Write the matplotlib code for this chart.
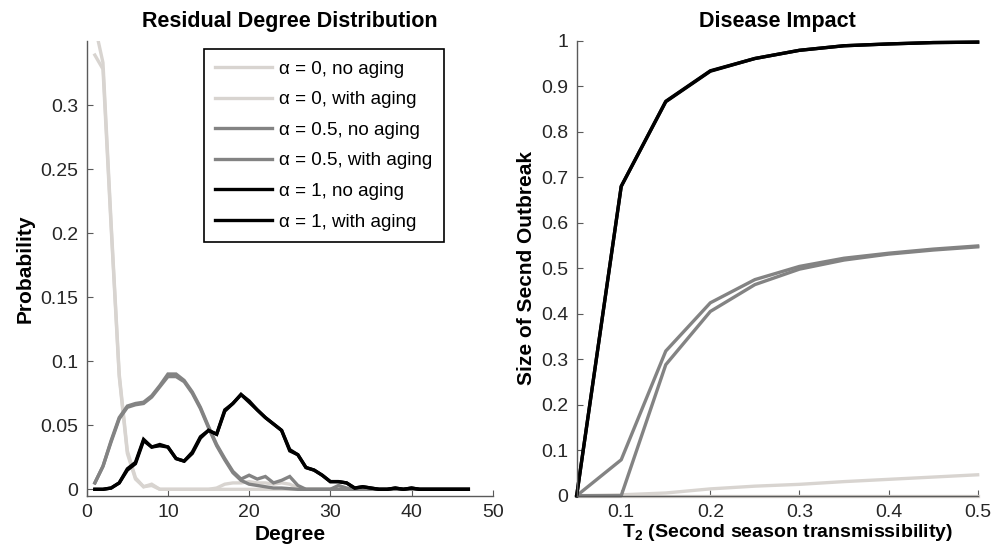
import matplotlib
matplotlib.use("Agg")
import matplotlib.pyplot as plt

plt.rcParams['font.family'] = ['Liberation Sans', 'DejaVu Sans']
plt.rcParams['mathtext.fontset'] = 'custom'
plt.rcParams['mathtext.rm'] = 'Liberation Sans'
plt.rcParams['mathtext.bf'] = 'Liberation Sans:bold'

# --- left panel: residual degree distribution ---
degree = list(range(1, 48))

a0_no = [0.339, 0.328, 0.205, 0.088, 0.028, 0.008, 0.002, 0.004, 0.0, 0.0,
         0.0, 0.0, 0.0, 0.0, 0.0, 0.0, 0.0, 0.0, 0.0, 0.0,
         0.0, 0.0, 0.0, 0.0, 0.0, 0.0, 0.0, 0.0, 0.0, 0.0,
         0.0, 0.0, 0.0, 0.0, 0.0, 0.0, 0.0, 0.0, 0.0, 0.0,
         0.0, 0.0, 0.0, 0.0, 0.0, 0.0, 0.0]
a0_age = [0.362, 0.333, 0.208, 0.09, 0.03, 0.009, 0.002, 0.003, 0.0, 0.0,
          0.0, 0.0, 0.0, 0.0, 0.0, 0.001, 0.004, 0.005, 0.005, 0.006,
          0.005, 0.005, 0.004, 0.005, 0.004, 0.001, 0.0, 0.0, 0.0, 0.0,
          0.002, 0.0, 0.0, 0.0, 0.0, 0.0, 0.0, 0.0, 0.0, 0.0,
          0.0, 0.0, 0.0, 0.0, 0.0, 0.0, 0.0]
a05_no = [0.005, 0.018, 0.037, 0.055, 0.064, 0.066, 0.067, 0.072, 0.08, 0.088,
          0.088, 0.084, 0.075, 0.063, 0.048, 0.034, 0.023, 0.013, 0.007, 0.004,
          0.003, 0.002, 0.001, 0.001, 0.0005, 0.0, 0.0, 0.0, 0.0, 0.0,
          0.0, 0.0, 0.0, 0.0, 0.0, 0.0, 0.0, 0.0, 0.0, 0.0,
          0.0, 0.0, 0.0, 0.0, 0.0, 0.0, 0.0]
a05_age = [0.005, 0.018, 0.038, 0.056, 0.065, 0.067, 0.068, 0.073, 0.081, 0.09,
           0.09, 0.085, 0.076, 0.064, 0.049, 0.035, 0.024, 0.014, 0.008, 0.011,
           0.008, 0.010, 0.005, 0.007, 0.010, 0.003, 0.0, 0.0, 0.0, 0.0,
           0.003, 0.001, 0.0, 0.0, 0.0, 0.0, 0.0, 0.0, 0.0, 0.0,
           0.0, 0.0, 0.0, 0.0, 0.0, 0.0, 0.0]
a1_no = [0.0, 0.0, 0.001, 0.005, 0.016, 0.021, 0.039, 0.033, 0.035, 0.033,
         0.024, 0.022, 0.029, 0.041, 0.046, 0.043, 0.062, 0.067, 0.074, 0.068,
         0.062, 0.056, 0.051, 0.046, 0.030, 0.027, 0.017, 0.015, 0.011, 0.006,
         0.006, 0.005, 0.001, 0.002, 0.001, 0.0, 0.0, 0.001, 0.0, 0.001,
         0.0, 0.0, 0.0, 0.0, 0.0, 0.0, 0.0]
a1_age = [0.0, 0.0, 0.001, 0.005, 0.015, 0.020, 0.038, 0.033, 0.034, 0.033,
          0.024, 0.022, 0.028, 0.040, 0.046, 0.043, 0.061, 0.067, 0.074, 0.069,
          0.062, 0.056, 0.051, 0.046, 0.031, 0.027, 0.017, 0.015, 0.011, 0.006,
          0.006, 0.005, 0.001, 0.002, 0.001, 0.0, 0.0, 0.001, 0.0, 0.001,
          0.0, 0.0, 0.0, 0.0, 0.0, 0.0, 0.0]

# --- right panel: disease impact ---
t2 = [0.05, 0.1, 0.15, 0.2, 0.25, 0.3, 0.35, 0.4, 0.45, 0.5]
imp_a0_no = [0.0, 0.0, 0.0, 0.0, 0.0, 0.0, 0.0, 0.0, 0.0, 0.0]
imp_a0_age = [0.0, 0.002, 0.006, 0.015, 0.021, 0.025, 0.031, 0.036, 0.041, 0.046]
imp_a05_no = [0.0, 0.0, 0.288, 0.405, 0.464, 0.498, 0.518, 0.531, 0.540, 0.547]
imp_a05_age = [0.0, 0.079, 0.318, 0.424, 0.475, 0.504, 0.522, 0.533, 0.542, 0.549]
imp_a1_no = [0.0, 0.68, 0.866, 0.933, 0.961, 0.979, 0.989, 0.993, 0.996, 0.997]
imp_a1_age = [0.0, 0.68, 0.867, 0.934, 0.961, 0.979, 0.989, 0.993, 0.996, 0.997]

labels = ['α = 0, no aging', 'α = 0, with aging',
          'α = 0.5, no aging', 'α = 0.5, with aging',
          'α = 1, no aging', 'α = 1, with aging']
light = '#d8d4d0'
mid = '#838383'
dark = '#000000'
colors = [light, light, mid, mid, dark, dark]
lw = 2.4
axis_col = '#5a5a5a'
text_col = '#262626'


def style_ax(ax):
    for side in ('top', 'right'):
        ax.spines[side].set_visible(False)
    for side in ('left', 'bottom'):
        ax.spines[side].set_color(axis_col)
        ax.spines[side].set_linewidth(1.0)
    ax.tick_params(direction='in', length=4, width=0.8, color=axis_col,
                   labelsize=14, labelcolor=text_col, pad=6)


fig = plt.figure(figsize=(9.97, 5.5), dpi=100)
ax1 = fig.add_axes([0.087, 0.0987, 0.4072, 0.8268])
ax2 = fig.add_axes([0.5784, 0.0987, 0.4022, 0.8272])

left_series = [a0_no, a0_age, a05_no, a05_age, a1_no, a1_age]
for ys, c, lab in zip(left_series, colors, labels):
    ax1.plot(degree, ys, color=c, lw=lw, label=lab, solid_joinstyle='miter')
ax1.set_xlim(0, 50)
ax1.set_ylim(-0.005, 0.35)
ax1.set_xticks([0, 10, 20, 30, 40, 50])
ax1.set_yticks([0, 0.05, 0.1, 0.15, 0.2, 0.25, 0.3])
ax1.set_yticklabels(['0', '0.05', '0.1', '0.15', '0.2', '0.25', '0.3'])
style_ax(ax1)
ax1.set_title('Residual Degree Distribution', fontsize=15.5, fontweight='bold', pad=10)
ax1.set_xlabel('Degree', fontsize=15, fontweight='bold', labelpad=3)
ax1.set_ylabel('Probability', fontsize=15, fontweight='bold', labelpad=4)
leg = ax1.legend(loc='upper left', bbox_to_anchor=(0.289, 0.982), fontsize=13.5,
                 fancybox=False, framealpha=1, edgecolor='black',
                 handlelength=3.0, handletextpad=0.4, labelspacing=0.72,
                 borderpad=0.6, borderaxespad=0)
leg.get_frame().set_linewidth(1.2)

right_series = [imp_a0_no, imp_a0_age, imp_a05_no, imp_a05_age, imp_a1_no, imp_a1_age]
for ys, c in zip(right_series, colors):
    ax2.plot(t2, ys, color=c, lw=lw, clip_on=False)
ax2.set_xlim(0.05, 0.5)
ax2.set_ylim(0, 1)
ax2.set_xticks([0.1, 0.2, 0.3, 0.4, 0.5])
ax2.set_xticklabels(['0.1', '0.2', '0.3', '0.4', '0.5'])
ax2.set_yticks([0, 0.1, 0.2, 0.3, 0.4, 0.5, 0.6, 0.7, 0.8, 0.9, 1.0])
ax2.set_yticklabels(['0', '0.1', '0.2', '0.3', '0.4', '0.5', '0.6', '0.7', '0.8', '0.9', '1'])
style_ax(ax2)
ax2.set_title('Disease Impact', fontsize=15.5, fontweight='bold', pad=10)
ax2.set_xlabel(r'T$_\mathbf{2}$ (Second season transmissibility)', fontsize=14,
               fontweight='bold', labelpad=0)
ax2.xaxis.set_label_coords(0.527, -0.058)
ax2.set_ylabel('Size of Secnd Outbreak', fontsize=15, fontweight='bold', labelpad=4)

fig.savefig('out.png', dpi=100)
